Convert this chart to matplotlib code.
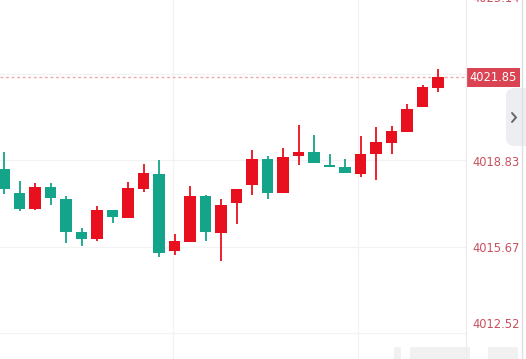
import matplotlib
matplotlib.use("Agg")
import matplotlib.pyplot as plt
from matplotlib.patches import FancyBboxPatch, Rectangle
import numpy as np

# ---- data ----
opens  = [4018.50, 4017.64, 4017.04, 4017.86, 4017.41, 4016.20, 4015.95, 4017.01, 4016.73, 4017.78,
          4018.32, 4015.52, 4015.85, 4017.52, 4016.18, 4017.25, 4017.93, 4018.87, 4017.64, 4018.99,
          4019.12, 4018.65, 4018.56, 4018.33, 4019.06, 4019.46, 4019.84, 4020.77, 4021.47]
highs  = [4019.13, 4018.06, 4018.00, 4018.00, 4017.52, 4016.34, 4017.15, 4017.02, 4018.04, 4018.68,
          4018.83, 4016.13, 4017.89, 4017.55, 4017.41, 4017.77, 4019.20, 4018.98, 4019.28, 4020.11,
          4019.74, 4019.04, 4018.87, 4019.71, 4020.03, 4020.07, 4020.87, 4021.57, 4022.14]
lows   = [4017.58, 4016.97, 4017.02, 4017.19, 4015.81, 4015.69, 4015.89, 4016.52, 4016.73, 4017.67,
          4015.30, 4015.35, 4015.85, 4015.89, 4015.16, 4016.50, 4017.55, 4017.41, 4017.64, 4018.66,
          4018.71, 4018.59, 4018.37, 4018.22, 4018.09, 4019.04, 4019.84, 4020.77, 4021.32]
closes = [4017.76, 4017.04, 4017.86, 4017.46, 4016.22, 4015.96, 4017.01, 4016.75, 4017.81, 4018.37,
          4015.45, 4015.88, 4017.52, 4016.22, 4017.19, 4017.77, 4018.87, 4017.64, 4018.95, 4019.11,
          4018.71, 4018.59, 4018.37, 4019.06, 4019.48, 4019.89, 4020.68, 4021.48, 4021.85]
last_price = 4021.85
tick_values = [4025.14, 4021.98, 4018.83, 4015.67, 4012.52]
tick_labels = ["4025.14", "4021.98", "4018.83", "4015.67", "4012.52"]

UP = "#e8101e"
DOWN = "#14a48a"
LABEL = "#c9505f"

W, H = 526, 359
fig = plt.figure(figsize=(W / 100, H / 100), dpi=100)
fig.patch.set_facecolor("white")
plot_right = 466
ax = fig.add_axes([0, 0, plot_right / W, 1])
ax.set_facecolor("white")

step = 15.5
x0 = 4
ax.set_xlim((0 - x0) / step, (plot_right - x0) / step)
ax.set_ylim(4011.572, 4024.666)
for s in ax.spines.values():
    s.set_visible(False)
ax.set_xticks([])
ax.set_yticks([])

# grid lines
for v in tick_values:
    ax.axhline(v, color="#f2f2f2", lw=0.9, zorder=0)
for px in (173, 358):
    ax.axvline((px - x0) / step, color="#f2f2f2", lw=0.9, zorder=0)

xs = np.arange(len(opens))
o = np.array(opens); c = np.array(closes); h = np.array(highs); l = np.array(lows)
up = c >= o
cols = np.where(up, UP, DOWN)
ax.vlines(xs, l, h, colors=cols, lw=1.3, zorder=2)
body_h = np.maximum(np.abs(c - o), 0.05)
ax.bar(xs, body_h, bottom=np.minimum(o, c), width=0.71, color=cols, zorder=3, linewidth=0)

# last price dotted line
ax.axhline(last_price, color="#f2a5ad", lw=1.0, ls=(0, (2, 2)), zorder=1)

# right price scale
fig.add_artist(plt.Line2D([plot_right / W, plot_right / W], [0, 1], color="#ececec", lw=0.9))
fig.add_artist(plt.Line2D([521.5 / W, 521.5 / W], [0, 1], color="#e0e0e0", lw=1.0))

def fy(price):
    # figure fraction of a price
    y_lo, y_hi = ax.get_ylim()
    return (price - y_lo) / (y_hi - y_lo)

# label pixel centre rows (top label is clipped at the top edge as in the reference)
label_rows = {"4025.14": -1, "4021.98": None, "4018.83": 163, "4015.67": 249, "4012.52": 325}
for v, t in zip(tick_values, tick_labels):
    row = label_rows[t]
    if row is None:
        continue
    fig.text(472 / W, 1 - row / H, t, color=LABEL, fontsize=8.3,
             family="DejaVu Sans", ha="left", va="center")

# current price tag
ty = fy(last_price)
fig.add_artist(Rectangle((467 / W, ty - 10 / H), 53 / W, 19.5 / H, transform=fig.transFigure,
                         facecolor="#da4452", edgecolor="none"))
fig.text(493.5 / W, ty - 0.5 / H, f"{last_price:.2f}", color="white", fontsize=8.3,
         family="DejaVu Sans", ha="center", va="center")

# side tab with chevron
fig.add_artist(FancyBboxPatch((506 / W, (H - 146) / H), 30 / W, 58 / H, transform=fig.transFigure,
                              boxstyle="round,pad=0,rounding_size=0.02", facecolor="#eceef1",
                              edgecolor="none"))
fig.add_artist(plt.Line2D([512 / W, 516 / W, 512 / W],
                          [(H - 113) / H, (H - 117.5) / H, (H - 122) / H],
                          color="#666666", lw=1.4, solid_capstyle="round", solid_joinstyle="miter"))

# blurred watermark at bottom right
for bx, bw in ((394, 7), (410, 60), (488, 30)):
    fig.add_artist(Rectangle((bx / W, 0), bw / W, 12 / H, transform=fig.transFigure,
                             facecolor="#f1f1f1", edgecolor="none"))

fig.savefig("out.png", dpi=100, facecolor="white")
